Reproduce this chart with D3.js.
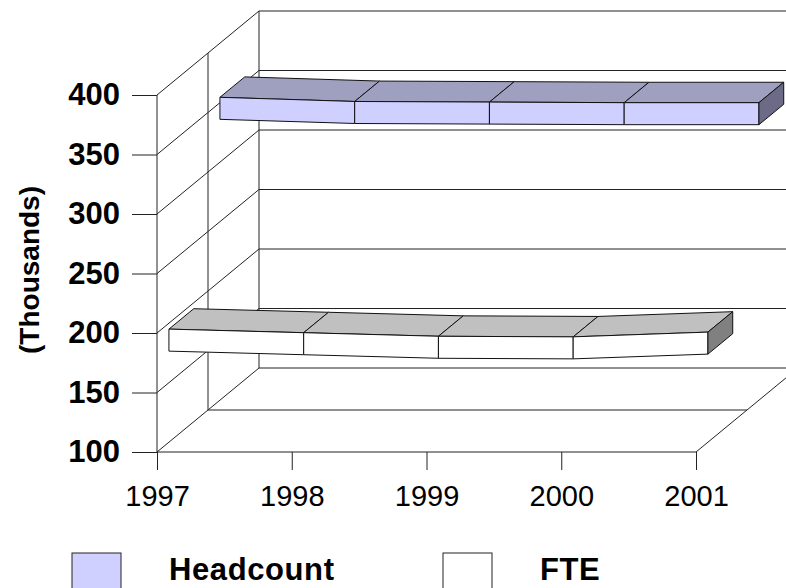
<!DOCTYPE html>
<html>
<head>
<meta charset="utf-8">
<script src="https://cdn.jsdelivr.net/npm/d3@7/dist/d3.min.js"></script>
<style>
  body { margin: 0; background: #fff; }
  svg { display: block; font-family: "Liberation Sans", Arial, sans-serif; }
  .wall line { stroke: #222; stroke-width: 1px; fill: none; }
  .ylabel { font-weight: bold; font-size: 31px; fill: #000; }
  .xlabel { font-size: 29px; fill: #000; }
  .title { font-weight: bold; font-size: 28px; fill: #000; }
  .legend text { font-weight: bold; font-size: 31px; letter-spacing: 0.6px; fill: #000; }
  .ribbon path { stroke: #111; stroke-width: 1px; stroke-linejoin: round; }
</style>
</head>
<body>
<svg id="chart" width="786" height="588"></svg>
<script>
// data
var years = ["1997", "1998", "1999", "2000", "2001"];
var headcount = [354.5, 351, 350.5, 350, 350];
var fte = [195, 192, 189, 188.5, 192.5];
var yTicks = [100, 150, 200, 250, 300, 350, 400];
var seriesNames = ["Headcount", "FTE"];

var svg = d3.select("#chart");

var x = d3.scalePoint().domain(years).range([157, 696]);
var y = d3.scaleLinear().domain([100, 400]).range([452, 95]);

// depth of the 3d box in pixels (front -> back)
var depthX = 102, depthY = -84;
var thick = 18.5; // ribbon thickness in value units

function pt(i, v, d) {
  return [x(years[i]) + d * depthX, y(v) + d * depthY];
}

var grid = svg.append("g").attr("class", "wall");

// back wall gridlines
grid.selectAll(".back").data(yTicks).enter().append("line")
  .attr("x1", x(years[0]) + depthX).attr("x2", x(years[4]) + depthX)
  .attr("y1", function(d) { return y(d) + depthY; })
  .attr("y2", function(d) { return y(d) + depthY; });

// back wall left edge + middle depth line on side wall
[1, 0.5].forEach(function(d) {
  grid.append("line")
    .attr("x1", x(years[0]) + d * depthX).attr("x2", x(years[0]) + d * depthX)
    .attr("y1", y(400) + d * depthY).attr("y2", y(100) + d * depthY);
});

// side wall diagonals
grid.selectAll(".side").data(yTicks).enter().append("line")
  .attr("x1", x(years[0])).attr("x2", x(years[0]) + depthX)
  .attr("y1", function(d) { return y(d); })
  .attr("y2", function(d) { return y(d) + depthY; });

// floor: middle line and right edge
grid.append("line")
  .attr("x1", x(years[0]) + depthX / 2).attr("x2", x(years[4]) + depthX / 2)
  .attr("y1", y(100) + depthY / 2).attr("y2", y(100) + depthY / 2);
grid.append("line")
  .attr("x1", x(years[4])).attr("x2", x(years[4]) + depthX)
  .attr("y1", y(100)).attr("y2", y(100) + depthY);

// value axis
var yAxis = d3.axisLeft(y).tickValues(yTicks).tickSize(25).tickPadding(12)
  .tickFormat(d3.format("d"));
var yg = svg.append("g").attr("transform", "translate(157,0)").call(yAxis);
yg.select(".domain").attr("stroke", "#222").attr("d", "M0," + y(400) + "V" + y(100));
yg.selectAll(".tick line").attr("stroke", "#222");
yg.selectAll(".tick text").attr("class", "ylabel");

// category axis
var xAxis = d3.axisBottom(x).tickSize(18).tickPadding(15);
var xg = svg.append("g").attr("transform", "translate(0," + y(100) + ")").call(xAxis);
xg.select(".domain").attr("stroke", "#222").attr("d", "M157,0H696");
xg.selectAll(".tick line").attr("stroke", "#222");
xg.selectAll(".tick text").attr("class", "xlabel");
yg.attr("font-size", null).attr("font-family", null);
xg.attr("font-size", null).attr("font-family", null);

svg.append("text").attr("class", "title")
  .attr("transform", "translate(39,270) rotate(-90)")
  .attr("text-anchor", "middle")
  .text("(Thousands)");

// ribbons, back one first
var ribbons = [
  { values: headcount, d0: 0.617, d1: 0.86, front: "#CFD0FF", top: "#9FA0C0", side: "#6B6B88" },
  { values: fte, d0: 0.117, d1: 0.36, front: "#FFFFFF", top: "#C0C0C0", side: "#808080" }
];

var line = d3.line();

ribbons.forEach(function(r) {
  var g = svg.append("g").attr("class", "ribbon");
  var v = r.values;
  for (var i = 0; i < v.length - 1; i++) {
    g.append("path").attr("fill", r.top).attr("d", line([
      pt(i, v[i], r.d0), pt(i + 1, v[i + 1], r.d0),
      pt(i + 1, v[i + 1], r.d1), pt(i, v[i], r.d1)
    ]) + "Z");
    g.append("path").attr("fill", r.front).attr("d", line([
      pt(i, v[i], r.d0), pt(i + 1, v[i + 1], r.d0),
      pt(i + 1, v[i + 1] - thick, r.d0), pt(i, v[i] - thick, r.d0)
    ]) + "Z");
  }
  var n = v.length - 1;
  g.append("path").attr("fill", r.side).attr("d", line([
    pt(n, v[n], r.d0), pt(n, v[n], r.d1),
    pt(n, v[n] - thick, r.d1), pt(n, v[n] - thick, r.d0)
  ]) + "Z");
});

// legend
var legend = svg.append("g").attr("class", "legend");
var legendX = [72, 443];
var legendFill = ["#CFD0FF", "#FFFFFF"];
seriesNames.forEach(function(name, i) {
  legend.append("rect").attr("x", legendX[i]).attr("y", 553)
    .attr("width", 49).attr("height", 45)
    .attr("fill", legendFill[i]).attr("stroke", "#222");
  legend.append("text").attr("x", legendX[i] + 97).attr("y", 580).text(name);
});
</script>
</body>
</html>
